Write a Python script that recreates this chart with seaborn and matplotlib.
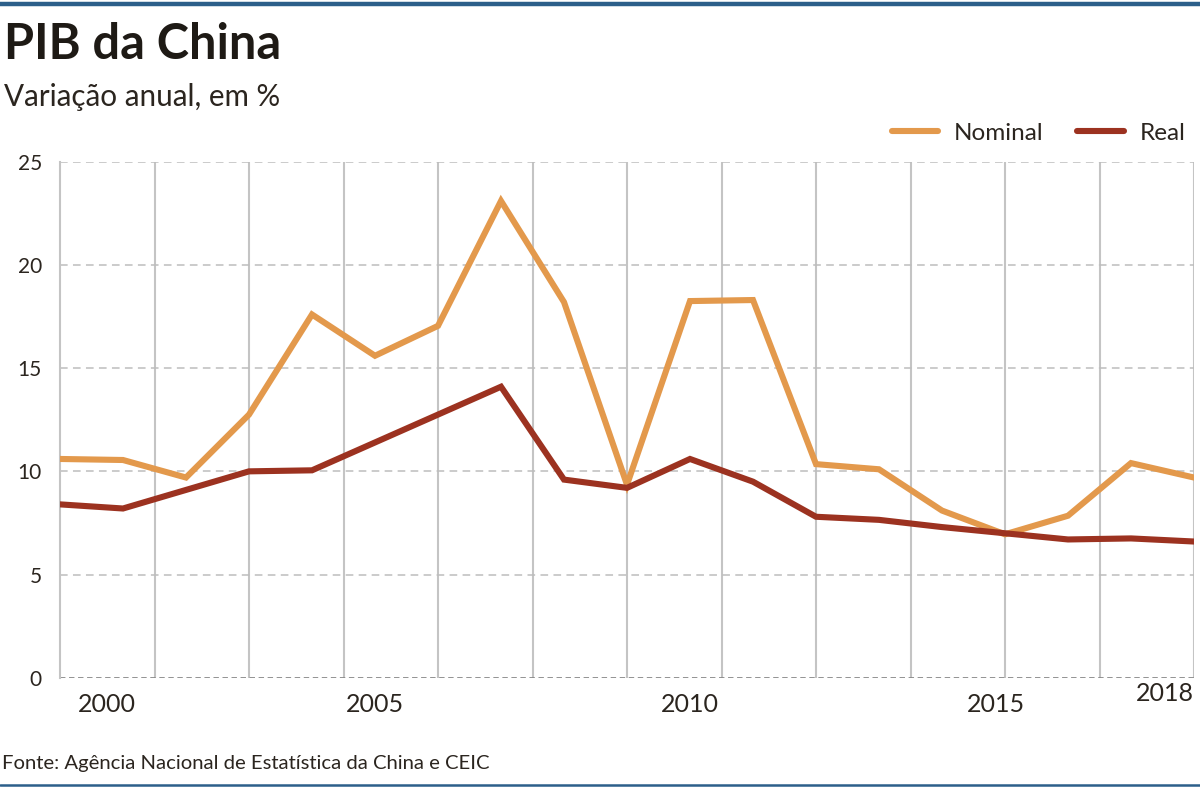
import numpy as np
import pandas as pd
import matplotlib
matplotlib.use("Agg")
import matplotlib.pyplot as plt
import matplotlib.transforms as mtransforms
from matplotlib.lines import Line2D
import seaborn as sns

# dados (variação anual do PIB, %)
anos = list(range(2000, 2019))
nominal = [10.6, 10.55, 9.7, 12.75, 17.6, 15.6, 17.05, 23.1, 18.2, 9.35,
           18.25, 18.3, 10.35, 10.1, 8.1, 6.95, 7.85, 10.4, 9.7]
real = [8.4, 8.2, 9.1, 10.0, 10.05, 11.4, 12.75, 14.1, 9.6, 9.2,
        10.6, 9.5, 7.8, 7.65, 7.3, 7.0, 6.7, 6.75, 6.6]
series = ["Nominal", "Real"]
cores = ["#E3994C", "#9C3220"]
rotulos_x = ["2000", "2005", "2010", "2015", "2018"]
pos_rotulos_x = [2000.75, 2005, 2010, 2014.85, 2018]
ticks_y = [0, 5, 10, 15, 20, 25]

df = pd.DataFrame({"ano": anos * 2,
                   "valor": nominal + real,
                   "serie": [series[0]] * len(anos) + [series[1]] * len(anos)})

sns.set_theme(style="white")
plt.rcParams["font.family"] = ["Lato", "DejaVu Sans"]
cor_texto = "#2b251f"

fig = plt.figure(figsize=(12, 7.89), dpi=100)
ax = fig.add_axes([0.05, 0.141, 0.945, 0.654])

sns.lineplot(data=df, x="ano", y="valor", hue="serie", palette=cores,
             linewidth=4.4, ax=ax, legend=False, solid_capstyle="round",
             solid_joinstyle="miter", zorder=5)

ax.set_xlim(2000, 2018)
ax.set_ylim(0, 25)

# grades
ax.set_yticks(ticks_y)
ax.set_yticklabels([str(v) for v in ticks_y], fontsize=15, color=cor_texto)
ax.tick_params(axis="y", length=0, pad=13)
for v in ticks_y[1:]:
    ax.axhline(v, color="#bdbdbd", lw=1.1, ls=(0, (5, 3.5)), zorder=1)
ax.axhline(0, color="#8a8a8a", lw=1.3, ls=(0, (3, 2)), zorder=2)
ax.set_xticks(np.arange(2001.5, 2018.1, 1.5), minor=True)
ax.set_xticks([])
ax.grid(which="minor", axis="x", color="#c4c4c4", lw=1.5, ls="-")
ax.tick_params(axis="x", which="both", length=0)

for s in ["top", "right", "bottom"]:
    ax.spines[s].set_visible(False)
ax.spines["left"].set_color("#c4c4c4")
ax.spines["left"].set_linewidth(1.5)
ax.set_xlabel("")
ax.set_ylabel("")

trans = mtransforms.blended_transform_factory(ax.transData, ax.transAxes)
for lab, pos in zip(rotulos_x, pos_rotulos_x):
    if lab == "2018":
        ax.text(pos, -0.008, lab, transform=trans, ha="right", va="top",
                fontsize=18, color=cor_texto)
    else:
        ax.text(pos, -0.03, lab, transform=trans, ha="center", va="top",
                fontsize=18, color=cor_texto)

# legenda
handles = [Line2D([0], [0], color=c, lw=4.4, solid_capstyle="round") for c in cores]
fig.legend(handles, series, loc="upper right", bbox_to_anchor=(1.006, 0.872),
           ncol=2, frameon=False, fontsize=17.5, handlelength=1.9,
           columnspacing=1.4, handletextpad=0.65, labelcolor=cor_texto)

# título e subtítulo
fig.text(0.003, 0.972, "PIB da China", fontsize=35, fontweight="bold",
         color="#1e1a15", ha="left", va="top")
fig.text(0.003, 0.895, "Variação anual, em %", fontsize=21.3,
         color=cor_texto, ha="left", va="top")
fig.text(0.002, 0.022, "Fonte: Agência Nacional de Estatística da China e CEIC",
         fontsize=14.6, color=cor_texto, ha="left", va="bottom")

# filetes azuis
fig.add_artist(Line2D([0, 1], [0.995, 0.995], color="#2c5f8a", lw=3.2,
                      transform=fig.transFigure))
fig.add_artist(Line2D([0, 1], [0.0055, 0.0055], color="#2c5f8a", lw=1.8,
                      transform=fig.transFigure))

fig.savefig("out.png", dpi=100)
